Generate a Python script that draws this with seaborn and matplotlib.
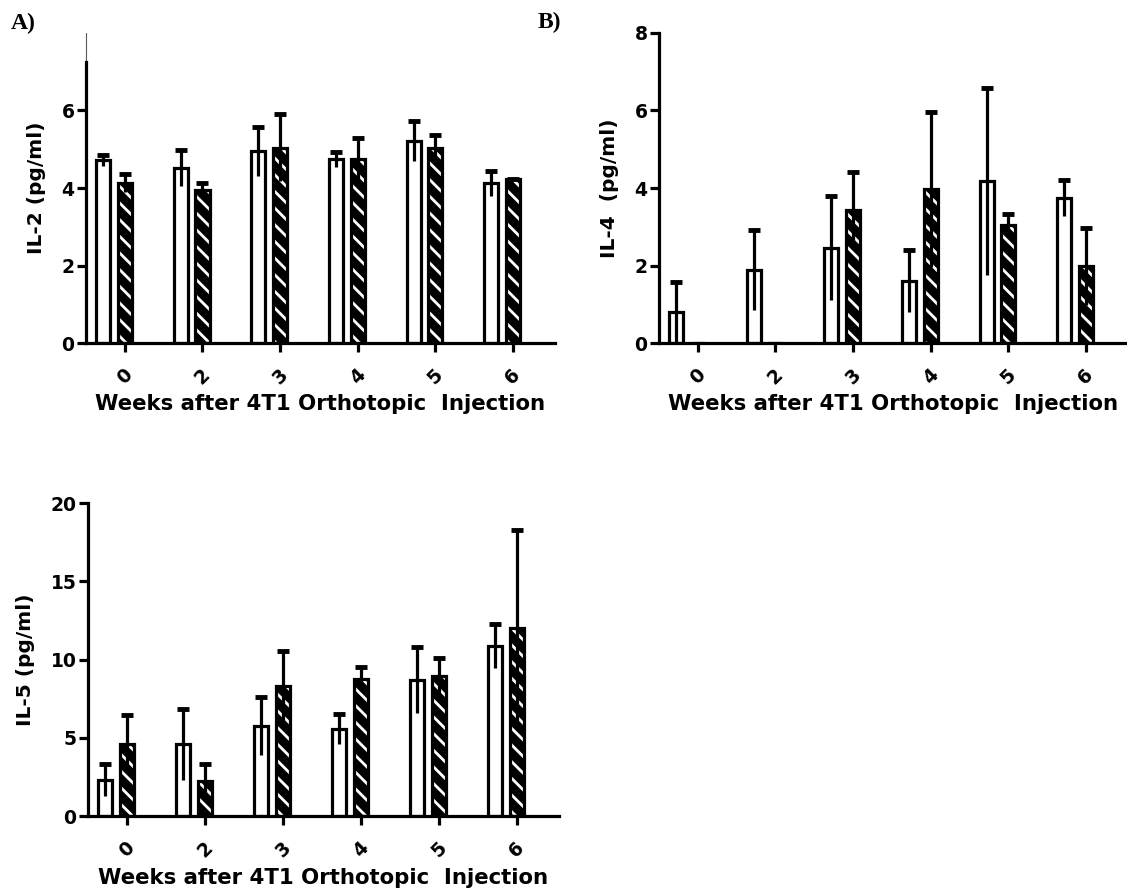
import numpy as np
import pandas as pd
import matplotlib
matplotlib.use('Agg')
import matplotlib.pyplot as plt
import seaborn as sns

# --- data (mean and SD per group) ---
weeks = ['0', '2', '3', '4', '5', '6']
groups = ['Control', '4T1']

il2_ctrl = [4.71, 4.51, 4.95, 4.74, 5.21, 4.12]
il2_ctrl_sd = [0.15, 0.47, 0.63, 0.19, 0.51, 0.33]
il2_4t1 = [4.12, 3.95, 5.04, 4.74, 5.04, 4.22]
il2_4t1_sd = [0.23, 0.19, 0.87, 0.56, 0.33, 0.02]

il4_ctrl = [0.80, 1.89, 2.45, 1.61, 4.17, 3.74]
il4_ctrl_sd = [0.78, 1.03, 1.34, 0.80, 2.41, 0.46]
il4_4t1 = [0.0, 0.0, 3.42, 3.97, 3.05, 1.98]
il4_4t1_sd = [0.0, 0.0, 0.99, 2.00, 0.28, 1.00]

il5_ctrl = [2.28, 4.59, 5.74, 5.57, 8.69, 10.86]
il5_ctrl_sd = [1.03, 2.28, 1.84, 0.94, 2.09, 1.41]
il5_4t1 = [4.63, 2.24, 8.30, 8.77, 8.94, 12.00]
il5_4t1_sd = [1.82, 1.07, 2.27, 0.77, 1.13, 6.30]

xlabel = 'Weeks after 4T1 Orthotopic  Injection'

sns.set_style('ticks')
plt.rcParams['font.family'] = ['DejaVu Sans']
plt.rcParams['font.weight'] = 'bold'
plt.rcParams['axes.labelweight'] = 'bold'
plt.rcParams['hatch.linewidth'] = 2.0
for key in ['text.color', 'axes.labelcolor', 'xtick.color', 'ytick.color', 'axes.edgecolor']:
    plt.rcParams[key] = 'black'

LW = 2.3


def draw_panel(ax, ctrl, ctrl_sd, tumor, tumor_sd, ylabel, ymax, yticks):
    df = pd.DataFrame({
        'week': weeks * 2,
        'group': [groups[0]] * len(weeks) + [groups[1]] * len(weeks),
        'value': ctrl + tumor,
    })
    # filled bars (white / black with white hatching)
    sns.barplot(data=df, x='week', y='value', hue='group', order=weeks, hue_order=groups,
                palette={groups[0]: 'white', groups[1]: 'black'}, saturation=1,
                width=0.56, gap=0.35, edgecolor='white', linewidth=0,
                errorbar=None, legend=False, ax=ax)
    fills = list(ax.containers[:2])
    for p in fills[1]:
        p.set_hatch('\\\\')
        p.set_edgecolor('white')
    # black outlines on top
    sns.barplot(data=df, x='week', y='value', hue='group', order=weeks, hue_order=groups,
                palette={groups[0]: 'black', groups[1]: 'black'}, saturation=1,
                width=0.56, gap=0.35, fill=False, linewidth=LW,
                errorbar=None, legend=False, ax=ax)

    # error bars: full line, cap only on top
    for cont, means, sds in zip(fills, [ctrl, tumor], [ctrl_sd, tumor_sd]):
        xs = np.array([p.get_x() + p.get_width() / 2 for p in cont])
        m = np.array(means)
        s = np.array(sds)
        keep = s > 0
        ax.vlines(xs[keep], (m - s)[keep], (m + s)[keep], color='black', lw=LW, zorder=3)
        ax.plot(xs[keep], (m + s)[keep], ls='none', marker='_', ms=9, mew=3.5,
                color='black', zorder=3)

    tick_x = [p.get_x() + p.get_width() / 2 for p in fills[1]]
    ax.set_xticks(tick_x, weeks, rotation=45, ha='center')
    ax.set_xlim(tick_x[0] - 0.5, tick_x[-1] + 0.54)
    ax.set_ylim(0, ymax)
    ax.set_yticks(yticks)

    sns.despine(ax=ax)
    for side in ['left', 'bottom']:
        ax.spines[side].set_linewidth(LW)
        ax.spines[side].set_color('black')
    ax.tick_params(axis='both', width=LW, length=6.8, labelsize=13.5, color='black',
                   labelcolor='black')
    ax.tick_params(axis='y', pad=1.5)
    ax.tick_params(axis='x', pad=9)
    for lab in ax.get_xticklabels() + ax.get_yticklabels():
        lab.set_fontweight('bold')

    ax.set_xlabel(xlabel, fontsize=15.3, fontweight='bold', color='black')
    ax.xaxis.set_label_coords(0.5, -0.165)
    ax.set_ylabel(ylabel, fontsize=14.5, fontweight='bold', labelpad=11, color='black')


fig = plt.figure(figsize=(11.27, 8.94), dpi=100)
ax_a = fig.add_axes([0.0763, 0.6163, 0.4161, 0.3468])
ax_b = fig.add_axes([0.5847, 0.6163, 0.4161, 0.3468])
ax_c = fig.add_axes([0.0781, 0.0872, 0.4180, 0.3501])

draw_panel(ax_a, il2_ctrl, il2_ctrl_sd, il2_4t1, il2_4t1_sd, 'IL-2 (pg/ml)', 8, [0, 2, 4, 6])
draw_panel(ax_b, il4_ctrl, il4_ctrl_sd, il4_4t1, il4_4t1_sd, 'IL-4  (pg/ml)', 8, [0, 2, 4, 6, 8])
draw_panel(ax_c, il5_ctrl, il5_ctrl_sd, il5_4t1, il5_4t1_sd, 'IL-5 (pg/ml)', 20, [0, 5, 10, 15, 20])

# panel A: thick axis stops below the top, a faint line continues above
ax_a.spines['left'].set_bounds(0, 7.26)
ax_a.plot([0, 0], [7.26, 8.0], transform=ax_a.get_yaxis_transform(),
          color='0.35', lw=0.8, clip_on=False)

fig.text(11 / 1127, 1 - 23 / 894, 'A)', family='Liberation Serif', weight='bold',
         size=17, ha='left', va='center')
fig.text(538 / 1127, 1 - 22 / 894, 'B)', family='Liberation Serif', weight='bold',
         size=17, ha='left', va='center')

fig.savefig('out.png', dpi=100, facecolor='white')
